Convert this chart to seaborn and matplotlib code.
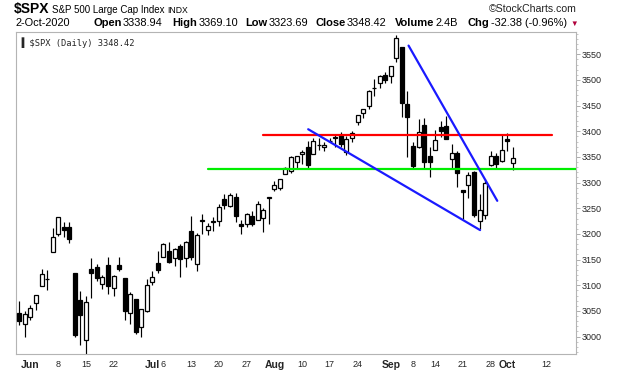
import matplotlib
matplotlib.use("Agg")
import matplotlib.pyplot as plt
import seaborn as sns
import numpy as np
import pandas as pd

# ---------------- data (SPX daily, 28-May-2020 .. 2-Oct-2020) ----------------
dates = ["2020-05-28", "2020-05-29",
         "2020-06-01", "2020-06-02", "2020-06-03", "2020-06-04", "2020-06-05",
         "2020-06-08", "2020-06-09", "2020-06-10", "2020-06-11", "2020-06-12",
         "2020-06-15", "2020-06-16", "2020-06-17", "2020-06-18", "2020-06-19",
         "2020-06-22", "2020-06-23", "2020-06-24", "2020-06-25", "2020-06-26",
         "2020-06-29", "2020-06-30", "2020-07-01", "2020-07-02",
         "2020-07-06", "2020-07-07", "2020-07-08", "2020-07-09", "2020-07-10",
         "2020-07-13", "2020-07-14", "2020-07-15", "2020-07-16", "2020-07-17",
         "2020-07-20", "2020-07-21", "2020-07-22", "2020-07-23", "2020-07-24",
         "2020-07-27", "2020-07-28", "2020-07-29", "2020-07-30", "2020-07-31",
         "2020-08-03", "2020-08-04", "2020-08-05", "2020-08-06", "2020-08-07",
         "2020-08-10", "2020-08-11", "2020-08-12", "2020-08-13", "2020-08-14",
         "2020-08-17", "2020-08-18", "2020-08-19", "2020-08-20", "2020-08-21",
         "2020-08-24", "2020-08-25", "2020-08-26", "2020-08-27", "2020-08-28",
         "2020-08-31", "2020-09-01", "2020-09-02", "2020-09-03", "2020-09-04",
         "2020-09-08", "2020-09-09", "2020-09-10", "2020-09-11",
         "2020-09-14", "2020-09-15", "2020-09-16", "2020-09-17", "2020-09-18",
         "2020-09-21", "2020-09-22", "2020-09-23", "2020-09-24", "2020-09-25",
         "2020-09-28", "2020-09-29", "2020-09-30", "2020-10-01", "2020-10-02"]

opens = [3046.61, 3025.17,
         3038.78, 3064.78, 3098.90, 3111.56, 3163.84,
         3199.92, 3213.32, 3213.42, 3123.53, 3071.04,
         2993.76, 3131.00, 3136.13, 3101.64, 3140.29,
         3094.42, 3138.70, 3114.40, 3046.60, 3073.20,
         3018.59, 3050.20, 3105.92, 3143.64,
         3155.29, 3166.44, 3153.07, 3176.17, 3152.47,
         3205.08, 3141.11, 3225.98, 3208.36, 3224.21,
         3224.29, 3268.52, 3254.86, 3271.64, 3218.58,
         3219.84, 3234.27, 3227.22, 3231.76, 3270.45,
         3288.26, 3289.92, 3317.37, 3323.17, 3340.05,
         3356.04, 3370.34, 3355.46, 3372.95, 3368.66,
         3380.86, 3387.04, 3392.51, 3360.48, 3386.01,
         3418.09, 3435.95, 3449.97, 3485.14, 3494.69,
         3509.73, 3507.44, 3543.76, 3564.74, 3453.60,
         3371.88, 3369.82, 3412.56, 3352.70,
         3363.56, 3407.73, 3411.23, 3346.86, 3357.38,
         3285.57, 3295.75, 3320.11, 3226.14, 3236.66,
         3333.90, 3350.92, 3341.21, 3385.87, 3338.94]

highs = [3068.67, 3049.17,
         3062.18, 3081.07, 3130.94, 3128.91, 3211.72,
         3233.13, 3222.71, 3223.27, 3123.53, 3088.42,
         3079.76, 3153.45, 3141.16, 3120.00, 3155.53,
         3120.92, 3154.90, 3115.01, 3086.25, 3073.73,
         3053.89, 3111.51, 3128.44, 3165.81,
         3182.59, 3184.15, 3171.80, 3179.78, 3186.82,
         3235.32, 3200.95, 3238.28, 3220.39, 3233.52,
         3258.61, 3277.29, 3279.32, 3279.99, 3227.26,
         3241.43, 3243.72, 3264.74, 3250.92, 3272.17,
         3302.73, 3306.84, 3330.77, 3351.03, 3352.54,
         3363.29, 3381.01, 3387.89, 3387.24, 3378.51,
         3387.59, 3395.06, 3399.54, 3390.80, 3399.96,
         3432.09, 3444.21, 3481.07, 3501.38, 3509.23,
         3514.77, 3528.03, 3588.11, 3564.85, 3479.15,
         3379.97, 3424.77, 3425.55, 3368.95,
         3402.93, 3419.48, 3428.92, 3375.17, 3362.27,
         3285.57, 3320.31, 3323.35, 3278.70, 3306.88,
         3360.74, 3357.92, 3393.56, 3397.18, 3369.10]

lows = [3023.40, 2998.61,
        3031.54, 3051.64, 3098.90, 3090.41, 3163.84,
        3196.00, 3193.11, 3181.49, 2999.49, 2984.47,
        2965.66, 3076.06, 3108.03, 3093.51, 3083.11,
        3079.39, 3127.12, 3032.13, 3024.01, 3004.63,
        2999.74, 3047.83, 3101.17, 3124.52,
        3155.29, 3142.93, 3136.53, 3115.70, 3136.22,
        3149.43, 3127.66, 3200.76, 3198.59, 3205.65,
        3215.16, 3247.77, 3253.10, 3222.66, 3200.05,
        3214.25, 3216.17, 3227.22, 3204.13, 3220.26,
        3284.53, 3286.37, 3317.37, 3318.14, 3328.72,
        3335.44, 3326.44, 3355.46, 3363.35, 3361.64,
        3379.22, 3370.15, 3369.66, 3354.69, 3379.31,
        3413.13, 3425.84, 3444.15, 3468.35, 3484.32,
        3493.25, 3494.60, 3535.23, 3427.41, 3349.63,
        3329.27, 3366.84, 3329.25, 3310.47,
        3363.56, 3389.25, 3384.45, 3328.82, 3292.40,
        3229.10, 3270.95, 3232.57, 3209.45, 3228.44,
        3332.91, 3327.54, 3340.47, 3361.39, 3323.69]

closes = [3029.73, 3044.31,
          3055.73, 3080.82, 3122.87, 3112.35, 3193.93,
          3232.39, 3207.18, 3190.14, 3002.10, 3041.31,
          3066.59, 3124.74, 3113.49, 3115.34, 3097.74,
          3117.86, 3131.29, 3050.33, 3083.76, 3009.05,
          3053.24, 3100.29, 3115.86, 3130.01,
          3179.72, 3145.32, 3169.94, 3152.05, 3185.04,
          3155.22, 3197.52, 3226.56, 3215.57, 3224.73,
          3251.84, 3257.30, 3276.02, 3235.66, 3215.63,
          3239.41, 3218.44, 3258.44, 3246.22, 3271.12,
          3294.61, 3306.51, 3327.77, 3349.16, 3351.28,
          3360.47, 3333.69, 3380.35, 3373.43, 3372.85,
          3381.99, 3389.78, 3374.85, 3385.51, 3397.16,
          3431.28, 3443.62, 3478.73, 3484.55, 3508.01,
          3500.31, 3526.65, 3580.84, 3455.06, 3426.96,
          3331.84, 3398.96, 3339.19, 3340.97,
          3383.54, 3401.20, 3385.49, 3357.01, 3319.47,
          3281.06, 3315.57, 3236.92, 3246.59, 3298.46,
          3351.60, 3335.47, 3363.00, 3380.80, 3348.42]

# x-axis labels: (trading-day offset from 1-Jun, label, bold?)
tick_offsets = [0, 5, 10, 15, 22, 24, 29, 34, 39, 44, 49, 54, 59, 65, 69, 73, 78, 83, 86, 93]
tick_labels = ["Jun", "8", "15", "22", "Jul", "6", "13", "20", "27", "Aug", "10", "17", "24",
               "Sep", "8", "14", "21", "28", "Oct", "12"]
tick_bold = [True, False, False, False, True, False, False, False, False, True, False, False, False,
             True, False, False, False, False, True, False]

y_ticks = list(range(3000, 3551, 50))

# drawn annotation lines: (x0, y0, x1, y1) in trading-day offsets / price
red_line = (42.0, 3393.0, 94.0, 3393.0)
green_line = (32.0, 3327.0, 99.0, 3327.0)
blue_line1 = (50.1, 3404.0, 81.1, 3207.5)
blue_line2 = (68.2, 3567.0, 84.2, 3264.5)

# header quote values
quote_labels = ["Open", "High", "Low", "Close", "Volume", "Chg"]
quote_values = ["3338.94", "3369.10", "3323.69", "3348.42", "2.4B", "-32.38 (-0.96%)"]

# ---------------- figure ----------------
sns.set_style("white")
plt.rcParams["font.family"] = ["Liberation Sans", "DejaVu Sans"]

df = pd.DataFrame({"date": pd.to_datetime(dates), "open": opens, "high": highs,
                   "low": lows, "close": closes})
df["pos"] = np.arange(len(df)) - 2   # 1-Jun -> 0

W, H = 620, 376
fig = plt.figure(figsize=(W / 100, H / 100), dpi=100)
ax = fig.add_axes([16 / W, 22 / H, 560 / W, 322 / H])

# wicks
ax.vlines(df["pos"], df["low"], df["high"], color="black", linewidth=0.85, zorder=2)
# bodies
bottom = np.minimum(df["open"], df["close"])
height = np.maximum(np.abs(df["close"] - df["open"]), 0.6)
face = ["white" if c >= o else "black" for o, c in zip(df["open"], df["close"])]
ax.bar(df["pos"], height, bottom=bottom, width=0.72, color=face, edgecolor="black",
       linewidth=0.9, zorder=3)

# annotation lines
for (x0, y0, x1, y1), col in [(red_line, "#ff0000"), (green_line, "#00ee00"),
                              (blue_line1, "#1a1aff"), (blue_line2, "#1a1aff")]:
    sns.lineplot(x=[x0, x1], y=[y0, y1], ax=ax, color=col, linewidth=1.6, zorder=4)

ax.set_xlim(-2.6, 98.4)
ax.set_ylim(2966, 3593.5)

# y axis on right
ax.yaxis.tick_right()
ax.set_yticks(y_ticks)
ax.set_yticklabels([str(v) for v in y_ticks], fontsize=6.5)
ax.set_yticks(np.arange(2970, 3591, 10), minor=True)
ax.tick_params(axis="y", which="major", length=3, width=0.6, color="#a0a0a0", pad=1)
ax.tick_params(axis="y", which="minor", length=1.5, width=0.5, color="#b0b0b0")

ax.set_xticks(tick_offsets)
ax.set_xticklabels(tick_labels, fontsize=6.5)
for lbl, b in zip(ax.get_xticklabels(), tick_bold):
    if b:
        lbl.set_fontweight("bold")
        lbl.set_fontsize(7.5)
ax.set_xticks(np.arange(-2, 99, 1), minor=True)
ax.tick_params(axis="x", which="major", length=2.5, width=0.6, color="#a0a0a0", pad=1.5)
ax.tick_params(axis="x", which="minor", length=1.2, width=0.5, color="#b0b0b0")
ax.set_xlabel("")
ax.set_ylabel("")
for s in ax.spines.values():
    s.set_color("#b4b4b4")
    s.set_linewidth(0.8)

# legend text in plot
ax.text(0.006, 0.985, "\u2590 $SPX (Daily) 3348.42", transform=ax.transAxes, fontsize=6.3,
        va="top", ha="left", family=["DejaVu Sans Mono", "DejaVu Sans"])

# ---------------- header ----------------
fig.canvas.draw()
renderer = fig.canvas.get_renderer()


def put(x_px, y_px, txt, size, weight="normal", color="black", ha="left"):
    t = fig.text(x_px / W, 1 - y_px / H, txt, fontsize=size, fontweight=weight, color=color,
                 ha=ha, va="baseline")
    return x_px + t.get_window_extent(renderer=renderer).width


x = put(14, 13, "$SPX", 10, "bold")
x = put(x + 2, 13, "S&P 500 Large Cap Index", 7)
put(x + 3, 13, "INDX", 6.2)
put(577, 12.5, "\u00a9StockCharts.com", 7.6, ha="right", color="#222222")

put(15, 26, "2-Oct-2020", 7.9)
label_x = [93, 172, 245, 315, 395, 468]
for lx, lab, val in zip(label_x, quote_labels, quote_values):
    xe = put(lx, 26, lab, 8, "bold")
    put(xe + 1.5, 26, val, 7.9)
put(570, 26, "\u25bc", 5.5, color="#b0003a")

fig.savefig("out.png", dpi=100)
